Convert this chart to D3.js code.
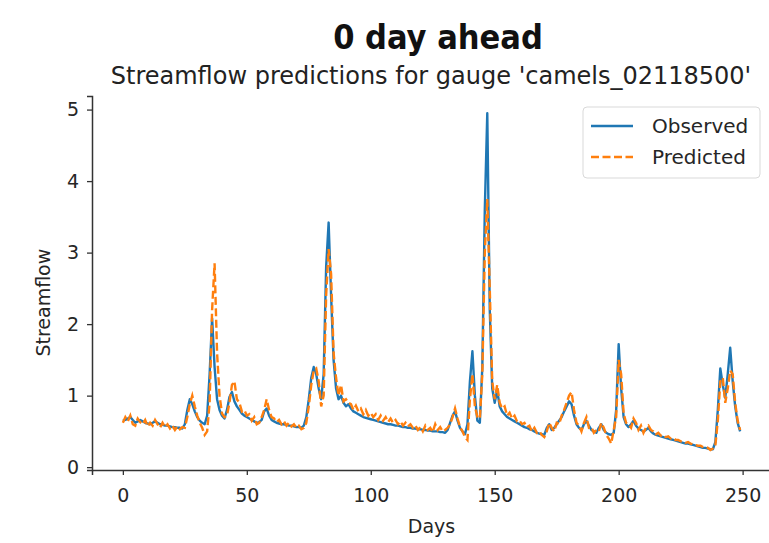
<!DOCTYPE html>
<html lang="en">
<head>
  <meta charset="UTF-8">
  <script src="https://d3js.org/d3.v7.min.js"></script>
  <style>
    body { margin: 0; background: #ffffff; font-family: "DejaVu Sans", sans-serif; }
    .tick text { font-size: 19px; fill: #262626; font-family: "DejaVu Sans", sans-serif; }
    .tick line { stroke: #333; stroke-width: 1.3px; }
    .domain { stroke: #333; stroke-width: 1.5px; }
  </style>
</head>
<body>
  <div id="chart"></div>
  <script>
    const title = "0 day ahead";
    const subtitle = "Streamflow predictions for gauge 'camels_02118500'";
    const xTicks = [0, 50, 100, 150, 200, 250];
    const yTicks = [0, 1, 2, 3, 4, 5];

    // observed streamflow, one value per day (0..249)
    const observed = [
      0.65,0.66,0.68,0.70,0.66,0.62,0.64,0.66,0.64,0.62,
      0.61,0.60,0.62,0.64,0.62,0.60,0.59,0.58,0.58,0.57,
      0.56,0.56,0.55,0.55,0.54,0.60,0.80,0.95,0.88,0.78,
      0.70,0.65,0.62,0.60,0.72,1.30,2.08,1.40,0.95,0.80,
      0.72,0.68,0.80,0.98,1.05,0.92,0.85,0.80,0.75,0.72,
      0.70,0.68,0.66,0.64,0.62,0.63,0.66,0.78,0.82,0.72,
      0.66,0.64,0.62,0.61,0.60,0.60,0.59,0.58,0.58,0.57,
      0.56,0.56,0.55,0.58,0.70,0.95,1.25,1.40,1.30,1.10,
      0.95,1.30,2.80,3.42,2.40,1.50,1.10,0.95,1.00,0.90,
      0.85,0.88,0.82,0.78,0.76,0.74,0.72,0.70,0.69,0.68,
      0.67,0.66,0.65,0.64,0.63,0.62,0.61,0.60,0.60,0.59,
      0.58,0.58,0.57,0.56,0.56,0.55,0.55,0.54,0.54,0.53,
      0.53,0.52,0.52,0.51,0.51,0.50,0.50,0.50,0.49,0.49,
      0.48,0.52,0.62,0.72,0.78,0.65,0.55,0.50,0.46,0.60,
      1.20,1.62,1.00,0.65,0.62,1.40,3.60,4.95,2.20,1.10,
      0.90,1.08,0.85,0.78,0.74,0.70,0.68,0.66,0.64,0.62,
      0.60,0.58,0.56,0.55,0.53,0.52,0.50,0.48,0.47,0.46,
      0.45,0.55,0.60,0.52,0.55,0.60,0.65,0.70,0.78,0.85,
      0.92,0.88,0.72,0.60,0.55,0.52,0.60,0.65,0.58,0.52,
      0.50,0.48,0.55,0.60,0.52,0.48,0.46,0.45,0.48,0.80,
      1.72,1.10,0.70,0.60,0.56,0.60,0.65,0.58,0.54,0.52,
      0.50,0.52,0.55,0.50,0.47,0.45,0.44,0.43,0.42,0.41,
      0.40,0.39,0.38,0.37,0.36,0.35,0.34,0.33,0.33,0.32,
      0.31,0.30,0.29,0.28,0.27,0.27,0.26,0.25,0.25,0.35,
      0.80,1.38,1.15,0.97,1.30,1.67,1.20,0.85,0.62,0.50
    ];

    // predicted streamflow, one value per day (0..249)
    const predicted = [
      0.62,0.70,0.64,0.72,0.60,0.58,0.68,0.63,0.60,0.66,
      0.57,0.62,0.58,0.66,0.60,0.55,0.62,0.56,0.60,0.54,
      0.58,0.52,0.57,0.53,0.56,0.55,0.70,0.88,1.00,0.85,
      0.72,0.62,0.55,0.45,0.50,0.90,2.20,2.85,1.60,1.00,
      0.75,0.70,0.72,0.90,1.15,1.20,0.95,0.90,0.78,0.80,
      0.72,0.74,0.65,0.70,0.60,0.62,0.70,0.80,0.95,0.80,
      0.70,0.68,0.63,0.66,0.60,0.64,0.58,0.62,0.57,0.60,
      0.55,0.58,0.53,0.55,0.62,0.85,1.15,1.35,1.38,1.20,
      0.85,1.00,2.40,3.05,2.70,1.60,1.25,1.00,1.15,0.92,
      0.95,0.90,0.88,0.80,0.86,0.78,0.82,0.74,0.80,0.72,
      0.76,0.70,0.74,0.66,0.72,0.65,0.70,0.63,0.68,0.62,
      0.66,0.60,0.64,0.58,0.62,0.57,0.60,0.55,0.58,0.52,
      0.56,0.50,0.58,0.52,0.55,0.49,0.60,0.52,0.56,0.50,
      0.52,0.55,0.60,0.70,0.82,0.68,0.56,0.50,0.42,0.38,
      0.95,1.30,0.85,0.70,0.68,1.30,3.00,3.75,2.50,1.20,
      0.95,1.15,0.90,0.82,0.85,0.72,0.76,0.68,0.72,0.64,
      0.65,0.60,0.62,0.56,0.58,0.50,0.55,0.48,0.50,0.45,
      0.42,0.50,0.62,0.55,0.50,0.62,0.60,0.72,0.80,0.90,
      1.00,1.05,0.80,0.62,0.58,0.50,0.62,0.70,0.55,0.56,
      0.48,0.52,0.50,0.62,0.55,0.45,0.40,0.33,0.52,0.70,
      1.50,1.30,0.75,0.62,0.60,0.55,0.68,0.62,0.52,0.58,
      0.48,0.55,0.58,0.52,0.50,0.46,0.48,0.44,0.45,0.42,
      0.43,0.40,0.41,0.38,0.38,0.36,0.36,0.34,0.35,0.33,
      0.32,0.31,0.30,0.30,0.28,0.28,0.27,0.24,0.26,0.30,
      0.65,1.20,1.25,0.90,1.10,1.35,1.30,0.90,0.65,0.52
    ];

    const width = 769;
    const height = 543;
    const margin = { top: 96, right: -2, bottom: 73, left: 92 };
    const innerW = width - margin.left - margin.right;
    const innerH = height - margin.top - margin.bottom;

    const svg = d3.select("#chart").append("svg")
      .attr("width", width)
      .attr("height", height)
      .style("background", "#ffffff");

    const g = svg.append("g")
      .attr("transform", `translate(${margin.left},${margin.top})`);

    // matplotlib-like 5% margins
    const x = d3.scaleLinear().domain([-12.45, 261.45]).range([0, innerW]);
    const y = d3.scaleLinear().domain([-0.04, 5.19]).range([innerH, 0]);

    g.append("g")
      .attr("transform", `translate(0,${innerH})`)
      .call(d3.axisBottom(x).tickValues(xTicks).tickSize(5).tickPadding(10))
      .call(a => a.selectAll(".tick text").attr("dy", "0.9em"));

    g.append("g")
      .call(d3.axisLeft(y).tickValues(yTicks).tickFormat(d3.format("d")).tickSize(5).tickPadding(8));

    const line = d3.line()
      .x((d, i) => x(i))
      .y(d => y(d));

    g.append("path")
      .datum(observed)
      .attr("fill", "none")
      .attr("stroke", "#1f77b4")
      .attr("stroke-width", 2.4)
      .attr("stroke-linejoin", "round")
      .attr("d", line);

    g.append("path")
      .datum(predicted)
      .attr("fill", "none")
      .attr("stroke", "#ff7f0e")
      .attr("stroke-width", 2.4)
      .attr("stroke-dasharray", "8,3.5")
      .attr("d", line);

    // titles
    svg.append("text")
      .attr("x", 438).attr("y", 49)
      .attr("text-anchor", "middle")
      .style("font-family", "'DejaVu Sans Condensed', 'DejaVu Sans', sans-serif")
      .style("font-weight", "bold")
      .style("font-size", "34px")
      .style("fill", "#111")
      .text(title);

    svg.append("text")
      .attr("x", 431).attr("y", 84)
      .attr("text-anchor", "middle")
      .style("font-size", "24px")
      .style("fill", "#222")
      .text(subtitle);

    svg.append("text")
      .attr("x", margin.left + x(124.5)).attr("y", 533)
      .attr("text-anchor", "middle")
      .style("font-size", "19px")
      .style("fill", "#262626")
      .text("Days");

    svg.append("text")
      .attr("transform", `translate(50,${margin.top + y(2.3)}) rotate(-90)`)
      .attr("text-anchor", "middle")
      .style("font-size", "19px")
      .style("fill", "#262626")
      .text("Streamflow");

    // legend
    const legend = svg.append("g").attr("transform", "translate(583,107)");
    legend.append("rect")
      .attr("width", 177).attr("height", 71)
      .attr("rx", 4)
      .attr("fill", "#ffffff")
      .attr("fill-opacity", 0.85)
      .attr("stroke", "#d9d9d9");
    const items = [
      { label: "Observed", color: "#1f77b4", dash: null },
      { label: "Predicted", color: "#ff7f0e", dash: "8,3.5" }
    ];
    items.forEach((d, i) => {
      const yy = 19 + i * 31;
      legend.append("line")
        .attr("x1", 8).attr("x2", 50).attr("y1", yy).attr("y2", yy)
        .attr("stroke", d.color).attr("stroke-width", 2.4)
        .attr("stroke-dasharray", d.dash);
      legend.append("text")
        .attr("x", 69).attr("y", yy + 7)
        .style("font-size", "20px")
        .style("fill", "#262626")
        .text(d.label);
    });
  </script>
</body>
</html>
